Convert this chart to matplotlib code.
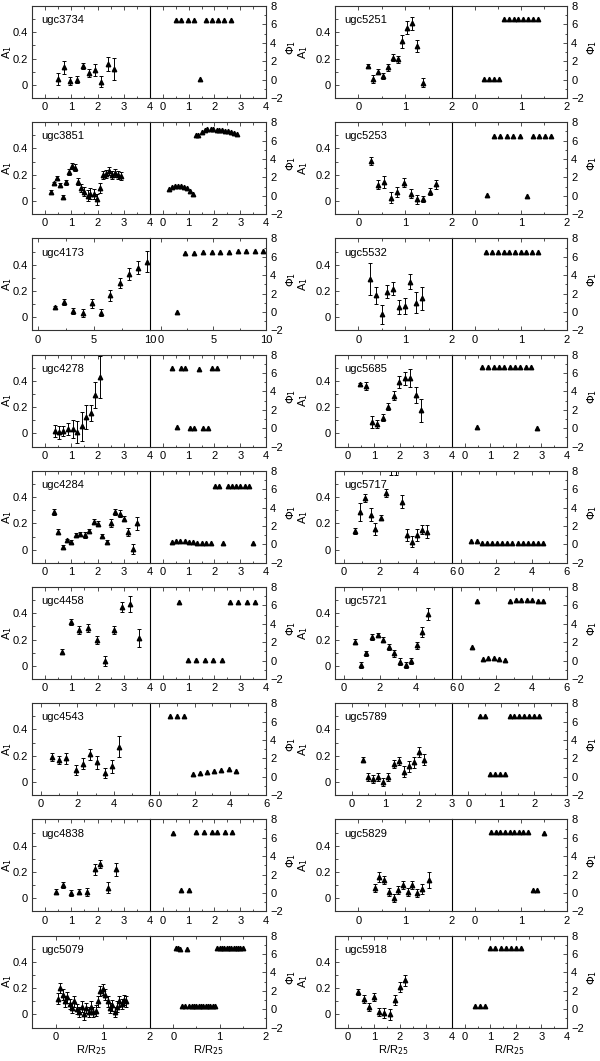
import matplotlib
matplotlib.use("Agg")
import matplotlib.pyplot as plt
from matplotlib.ticker import MultipleLocator

plt.rcParams['font.family'] = ['Liberation Sans', 'DejaVu Sans']
plt.rcParams['font.size'] = 8

# ---- data (R/R25, A1, err, Phi1) ----
ugc3734_r = [0.49, 0.72, 0.96, 1.21, 1.44, 1.68, 1.92, 2.14, 2.38, 2.63]
ugc3734_a1 = [0.044, 0.133, 0.03, 0.04, 0.145, 0.09, 0.11, 0.025, 0.16, 0.12]
ugc3734_a1_err = [0.044, 0.05, 0.03, 0.025, 0.025, 0.03, 0.045, 0.045, 0.055, 0.085]
ugc3734_phi = [6.5, 6.5, 6.5, 6.5, 0.1, 6.5, 6.5, 6.5, 6.5, 6.5]

ugc5251_r = [0.2, 0.31, 0.42, 0.53, 0.63, 0.73, 0.84, 0.94, 1.04, 1.15, 1.25, 1.37]
ugc5251_a1 = [0.145, 0.047, 0.1, 0.067, 0.133, 0.207, 0.193, 0.33, 0.435, 0.467, 0.294, 0.015]
ugc5251_a1_err = [0.01, 0.03, 0.02, 0.02, 0.025, 0.025, 0.03, 0.05, 0.05, 0.05, 0.045, 0.035]
ugc5251_phi = [0.07, 0.07, 0.07, 0.07, 6.55, 6.6, 6.6, 6.6, 6.6, 6.6, 6.6, 6.6]

ugc3851_r = [0.23, 0.35, 0.46, 0.58, 0.69, 0.81, 0.92, 1.04, 1.15, 1.27, 1.38, 1.5,
             1.62, 1.73, 1.85, 1.96, 2.08, 2.19, 2.31, 2.42, 2.54, 2.65, 2.77, 2.88]
ugc3851_a1 = [0.067, 0.138, 0.178, 0.123, 0.03, 0.143, 0.222, 0.267, 0.255, 0.148, 0.1, 0.072,
              0.042, 0.057, 0.052, 0.012, 0.1, 0.198, 0.205, 0.23, 0.195, 0.215, 0.2, 0.19]
ugc3851_a1_err = [0.015, 0.01, 0.01, 0.015, 0.015, 0.02, 0.025, 0.025, 0.025, 0.025, 0.03, 0.035,
                  0.04, 0.04, 0.04, 0.04, 0.035, 0.03, 0.03, 0.03, 0.03, 0.03, 0.03, 0.03]
ugc3851_phi = [0.7, 0.95, 1.05, 1.1, 1.05, 0.95, 0.8, 0.55, 0.25, 6.6, 6.6, 6.9,
               7.15, 7.3, 7.27, 7.22, 7.2, 7.15, 7.1, 7.05, 7.0, 6.95, 6.85, 6.75]

ugc5253_r = [0.26, 0.41, 0.55, 0.69, 0.83, 0.98, 1.12, 1.25, 1.39, 1.53, 1.66]
ugc5253_a1 = [0.304, 0.123, 0.148, 0.027, 0.07, 0.14, 0.057, 0.012, 0.017, 0.072, 0.126]
ugc5253_a1_err = [0.03, 0.035, 0.045, 0.04, 0.04, 0.035, 0.035, 0.035, 0.025, 0.025, 0.035]
ugc5253_phi = [0.07, 6.5, 6.5, 6.5, 6.5, 6.45, 0.03, 6.5, 6.5, 6.5, 6.45]

ugc4173_r = [1.58, 2.35, 3.19, 4.03, 4.84, 5.65, 6.48, 7.32, 8.13, 8.94, 9.74]
ugc4173_a1 = [0.075, 0.116, 0.048, 0.032, 0.107, 0.036, 0.167, 0.26, 0.332, 0.376, 0.422]
ugc4173_a1_err = [0.01, 0.02, 0.025, 0.03, 0.035, 0.03, 0.04, 0.04, 0.045, 0.05, 0.08]
ugc4173_phi = [0.05, 6.45, 6.4, 6.5, 6.55, 6.5, 6.55, 6.6, 6.6, 6.6, 6.65]

ugc5532_r = [0.24, 0.37, 0.5, 0.62, 0.74, 0.86, 0.99, 1.11, 1.23, 1.36]
ugc5532_a1 = [0.29, 0.167, 0.022, 0.194, 0.218, 0.08, 0.085, 0.272, 0.11, 0.143]
ugc5532_a1_err = [0.12, 0.065, 0.075, 0.05, 0.05, 0.055, 0.06, 0.06, 0.08, 0.09]
ugc5532_phi = [6.5, 6.5, 6.5, 6.5, 6.5, 6.5, 6.5, 6.5, 6.5, 6.5]

ugc4278_r = [0.36, 0.53, 0.7, 0.86, 1.05, 1.21, 1.39, 1.56, 1.74, 1.91, 2.09]
ugc4278_a1 = [0.02, 0.01, 0.017, 0.035, 0.035, 0.012, 0.054, 0.123, 0.156, 0.29, 0.43]
ugc4278_a1_err = [0.045, 0.05, 0.04, 0.045, 0.07, 0.085, 0.11, 0.09, 0.06, 0.1, 0.16]
ugc4278_phi = [6.5, 0.15, 6.55, 6.55, 0.05, 0.05, 6.4, 0.05, 0.05, 6.5, 6.5]

ugc5685_r = [0.46, 0.69, 0.91, 1.13, 1.35, 1.55, 1.76, 1.96, 2.18, 2.4, 2.6, 2.82]
ugc5685_a1 = [0.375, 0.36, 0.09, 0.074, 0.12, 0.205, 0.287, 0.39, 0.42, 0.42, 0.295, 0.175]
ugc5685_a1_err = [0.01, 0.03, 0.045, 0.03, 0.025, 0.025, 0.035, 0.045, 0.05, 0.07, 0.06, 0.09]
ugc5685_phi = [0.1, 6.6, 6.6, 6.6, 6.6, 6.6, 6.6, 6.6, 6.6, 6.6, 6.6, 0.05]

ugc4284_r = [0.34, 0.5, 0.67, 0.84, 1.0, 1.17, 1.34, 1.51, 1.68, 1.85,
             2.01, 2.18, 2.35, 2.52, 2.68, 2.84, 3.01, 3.17, 3.34, 3.51]
ugc4284_a1 = [0.285, 0.137, 0.022, 0.07, 0.062, 0.112, 0.122, 0.112, 0.145, 0.212,
              0.197, 0.102, 0.06, 0.2, 0.285, 0.275, 0.235, 0.135, 0.005, 0.2]
ugc4284_a1_err = [0.025, 0.02, 0.015, 0.01, 0.01, 0.015, 0.015, 0.02, 0.015, 0.02,
                  0.02, 0.015, 0.015, 0.03, 0.025, 0.025, 0.02, 0.03, 0.04, 0.05]
ugc4284_phi = [0.3, 0.32, 0.4, 0.38, 0.3, 0.25, 0.2, 0.12, 0.1, 0.1,
               6.4, 6.4, 0.1, 6.4, 6.4, 6.4, 6.4, 6.4, 6.4, 0.1]

ugc5717_r = [0.6, 0.9, 1.18, 1.48, 1.74, 2.04, 2.34, 2.62, 2.9, 3.21, 3.5, 3.78, 4.06, 4.34, 4.63]
ugc5717_a1 = [0.142, 0.287, 0.39, 0.267, 0.157, 0.242, 0.43, 0.7, 0.7, 0.365, 0.112, 0.062, 0.112, 0.152, 0.137]
ugc5717_a1_err = [0.02, 0.07, 0.03, 0.05, 0.045, 0.02, 0.03, 0.13, 0.13, 0.05, 0.045, 0.045, 0.045, 0.035, 0.05]
ugc5717_phi = [0.35, 0.35, 0.15, 0.15, 0.15, 0.15, 0.15, 0.15, 0.15, 0.15, 0.15, 0.15, 0.15, 0.2, 0.2]

ugc4458_r = [0.64, 0.98, 1.3, 1.64, 1.96, 2.28, 2.61, 2.93, 3.25, 3.57]
ugc4458_a1 = [0.107, 0.335, 0.27, 0.29, 0.197, 0.037, 0.27, 0.447, 0.47, 0.212]
ugc4458_a1_err = [0.02, 0.025, 0.03, 0.03, 0.03, 0.035, 0.03, 0.04, 0.06, 0.07]
ugc4458_phi = [6.4, 0.1, 0.1, 0.1, 0.1, 0.1, 6.4, 6.4, 6.4, 6.4]

ugc5721_r = [0.62, 0.93, 1.23, 1.55, 1.87, 2.17, 2.49, 2.8, 3.1, 3.42, 3.72, 4.04, 4.36, 4.65]
ugc5721_a1 = [0.185, 0.007, 0.095, 0.22, 0.232, 0.2, 0.142, 0.095, 0.032, 0.007, 0.037, 0.157, 0.257, 0.397]
ugc5721_a1_err = [0.02, 0.02, 0.02, 0.02, 0.015, 0.02, 0.025, 0.025, 0.025, 0.025, 0.02, 0.025, 0.035, 0.045]
ugc5721_phi = [1.5, 6.45, 0.2, 0.25, 0.25, 0.2, 0.1, 6.5, 6.55, 6.55, 6.55, 6.55, 6.45, 6.45]

ugc4543_r = [0.6, 1.0, 1.4, 1.9, 2.3, 2.7, 3.1, 3.5, 3.9, 4.3]
ugc4543_a1 = [0.19, 0.17, 0.18, 0.09, 0.14, 0.21, 0.15, 0.07, 0.12, 0.27]
ugc4543_a1_err = [0.03, 0.03, 0.04, 0.04, 0.04, 0.04, 0.05, 0.04, 0.05, 0.08]
ugc4543_phi = [6.6, 6.6, 6.6, 0.3, 0.4, 0.5, 0.6, 0.7, 0.8, 0.6]

ugc5789_r = [0.35, 0.5, 0.65, 0.8, 0.95, 1.1, 1.25, 1.4, 1.55, 1.7, 1.85, 2.0, 2.15]
ugc5789_a1 = [0.17, 0.04, 0.02, 0.04, 0.0, 0.04, 0.14, 0.16, 0.08, 0.12, 0.15, 0.23, 0.17]
ugc5789_a1_err = [0.02, 0.03, 0.03, 0.03, 0.03, 0.03, 0.03, 0.03, 0.04, 0.04, 0.04, 0.04, 0.04]
ugc5789_phi = [6.6, 6.6, 0.3, 0.3, 0.3, 0.3, 6.6, 6.6, 6.6, 6.6, 6.6, 6.6, 6.6]

ugc4838_r = [0.4, 0.7, 1.0, 1.3, 1.6, 1.9, 2.1, 2.4, 2.7]
ugc4838_a1 = [0.05, 0.1, 0.04, 0.05, 0.05, 0.22, 0.26, 0.08, 0.22]
ugc4838_a1_err = [0.02, 0.02, 0.02, 0.02, 0.03, 0.04, 0.03, 0.04, 0.05]
ugc4838_phi = [6.5, 0.3, 0.3, 6.6, 6.6, 6.6, 6.6, 6.6, 6.6]

ugc5829_r = [0.35, 0.45, 0.55, 0.65, 0.75, 0.85, 0.95, 1.05, 1.15, 1.25, 1.35, 1.5]
ugc5829_a1 = [0.08, 0.16, 0.14, 0.05, 0.0, 0.06, 0.1, 0.05, 0.1, 0.04, 0.07, 0.14]
ugc5829_a1_err = [0.03, 0.04, 0.03, 0.03, 0.03, 0.03, 0.03, 0.03, 0.03, 0.03, 0.04, 0.06]
ugc5829_phi = [6.6, 6.6, 6.6, 6.6, 6.6, 6.6, 6.6, 6.6, 6.6, 0.3, 0.3, 6.5]

ugc5079_r = [0.05, 0.1, 0.15, 0.2, 0.25, 0.3, 0.35, 0.4, 0.45, 0.5, 0.55, 0.6, 0.65, 0.7,
             0.75, 0.8, 0.85, 0.9, 0.95, 1.0, 1.05, 1.1, 1.15, 1.2, 1.25, 1.3, 1.35, 1.4, 1.45, 1.5]
ugc5079_a1 = [0.12, 0.2, 0.15, 0.1, 0.13, 0.08, 0.05, 0.1, 0.04, 0.02, 0.06, 0.0, 0.05, 0.02,
              0.06, 0.02, 0.03, 0.1, 0.18, 0.19, 0.15, 0.1, 0.05, 0.07, 0.02, 0.06, 0.1, 0.08, 0.11, 0.1]
ugc5079_a1_err = [0.04] * 30
ugc5079_phi = [6.6, 6.6, 6.5, 0.3, 0.3, 6.5, 0.3, 0.3, 0.3, 0.3, 0.3, 0.35, 0.35, 0.35,
               0.35, 0.4, 0.4, 0.3, 6.6, 6.6, 6.6, 6.6, 6.6, 6.6, 6.6, 6.6, 6.6, 6.6, 6.6, 6.6]

ugc5918_r = [0.4, 0.6, 0.8, 1.0, 1.2, 1.4, 1.6, 1.8, 2.0, 2.2]
ugc5918_a1 = [0.17, 0.12, 0.06, 0.13, 0.02, 0.01, 0.0, 0.11, 0.21, 0.26]
ugc5918_a1_err = [0.02, 0.03, 0.03, 0.03, 0.03, 0.04, 0.04, 0.04, 0.04, 0.04]
ugc5918_phi = [0.3, 0.3, 0.3, 6.6, 6.6, 6.6, 6.6, 6.6, 6.6, 6.6]

# name, r, a1, err, phi, x max, tick step
panels = [
    ('ugc3734', ugc3734_r, ugc3734_a1, ugc3734_a1_err, ugc3734_phi, 4, 1),
    ('ugc5251', ugc5251_r, ugc5251_a1, ugc5251_a1_err, ugc5251_phi, 2, 1),
    ('ugc3851', ugc3851_r, ugc3851_a1, ugc3851_a1_err, ugc3851_phi, 4, 1),
    ('ugc5253', ugc5253_r, ugc5253_a1, ugc5253_a1_err, ugc5253_phi, 2, 1),
    ('ugc4173', ugc4173_r, ugc4173_a1, ugc4173_a1_err, ugc4173_phi, 10, 5),
    ('ugc5532', ugc5532_r, ugc5532_a1, ugc5532_a1_err, ugc5532_phi, 2, 1),
    ('ugc4278', ugc4278_r, ugc4278_a1, ugc4278_a1_err, ugc4278_phi, 4, 1),
    ('ugc5685', ugc5685_r, ugc5685_a1, ugc5685_a1_err, ugc5685_phi, 4, 1),
    ('ugc4284', ugc4284_r, ugc4284_a1, ugc4284_a1_err, ugc4284_phi, 4, 1),
    ('ugc5717', ugc5717_r, ugc5717_a1, ugc5717_a1_err, ugc5717_phi, 6, 2),
    ('ugc4458', ugc4458_r, ugc4458_a1, ugc4458_a1_err, ugc4458_phi, 4, 1),
    ('ugc5721', ugc5721_r, ugc5721_a1, ugc5721_a1_err, ugc5721_phi, 6, 2),
    ('ugc4543', ugc4543_r, ugc4543_a1, ugc4543_a1_err, ugc4543_phi, 6, 2),
    ('ugc5789', ugc5789_r, ugc5789_a1, ugc5789_a1_err, ugc5789_phi, 3, 1),
    ('ugc4838', ugc4838_r, ugc4838_a1, ugc4838_a1_err, ugc4838_phi, 4, 1),
    ('ugc5829', ugc5829_r, ugc5829_a1, ugc5829_a1_err, ugc5829_phi, 2, 1),
    ('ugc5079', ugc5079_r, ugc5079_a1, ugc5079_a1_err, ugc5079_phi, 2, 1),
    ('ugc5918', ugc5918_r, ugc5918_a1, ugc5918_a1_err, ugc5918_phi, 4, 1),
]

W, H = 600, 1061
fig = plt.figure(figsize=(W / 100, H / 100), dpi=100)

col_x = [(32, 150, 266), (335, 452, 567)]
a1_label_x = [-0.15, -0.21]
row_top0, row_pitch, row_h = 6, 116.2, 92
spine_c = '#333333'


def add_ax(x0, x1, top):
    return fig.add_axes([x0 / W, 1 - (top + row_h) / H, (x1 - x0) / W, row_h / H])


for i, (name, r, a1, err, phi, xmax, step) in enumerate(panels):
    row, col = divmod(i, 2)
    xl, xm, xr = col_x[col]
    top = row_top0 + row * row_pitch
    xmin_a = -0.5
    xmin_p = -1.0 if xmax > 6 else -0.5

    axa = add_ax(xl, xm, top)
    axa.errorbar(r, a1, yerr=err, fmt='^', color='black', ms=3.2, elinewidth=0.7,
                 capsize=1.5, capthick=0.7)
    axa.set_xlim(xmin_a, xmax)
    axa.set_ylim(-0.1, 0.6)
    axa.set_yticks([0, 0.2, 0.4])
    axa.set_yticklabels(['0', '0.2', '0.4'])
    axa.yaxis.set_minor_locator(MultipleLocator(0.1))
    axa.xaxis.set_major_locator(MultipleLocator(step))
    axa.xaxis.set_minor_locator(MultipleLocator(step / 2))
    axa.tick_params(which='both', direction='in', top=True, right=False, labelsize=8,
                    length=3, width=0.6, color=spine_c, pad=3)
    axa.tick_params(which='minor', length=1.8)
    axa.set_ylabel('A$_1$', fontsize=8)
    axa.yaxis.set_label_coords(a1_label_x[col], 0.5)
    axa.text(0.08, 0.9, name, transform=axa.transAxes, fontsize=8, va='top')
    axa.spines['right'].set_visible(False)

    axp = add_ax(xm, xr, top)
    axp.plot(r, phi, '^', color='black', ms=3.2)
    axp.set_xlim(xmin_p, xmax)
    axp.set_ylim(-2, 8)
    axp.yaxis.set_major_locator(MultipleLocator(2))
    axp.yaxis.set_minor_locator(MultipleLocator(1))
    axp.xaxis.set_major_locator(MultipleLocator(step))
    axp.xaxis.set_minor_locator(MultipleLocator(step / 2))
    axp.yaxis.tick_right()
    axp.tick_params(which='both', direction='in', top=True, left=False, right=True,
                    labelsize=8, length=3, width=0.6, color=spine_c, pad=3)
    axp.tick_params(which='minor', length=1.8)
    axp.set_ylabel(r'$\Phi_1$', fontsize=8, rotation=90)
    axp.yaxis.set_label_position('right')
    axp.yaxis.set_label_coords(1.16, 0.55)

    for ax in (axa, axp):
        for s in ax.spines.values():
            s.set_color(spine_c)
            s.set_linewidth(0.8)
    axp.spines['left'].set_color('black')

    if row == 8:
        axa.set_xlabel('R/R$_{25}$', fontsize=8, labelpad=1)
        axp.set_xlabel('R/R$_{25}$', fontsize=8, labelpad=1)

fig.savefig('out.png', dpi=100)
